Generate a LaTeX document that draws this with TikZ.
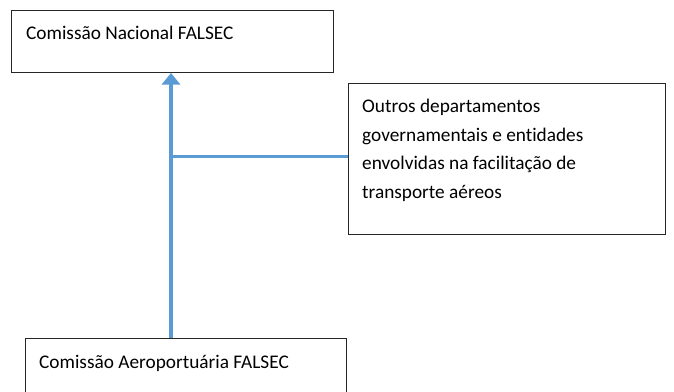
\documentclass[tikz,border=0pt]{standalone}
\usepackage{fontspec}
\setmainfont{Carlito}[Ligatures={NoCommon}]
\usetikzlibrary{arrows.meta}
\definecolor{linkblue}{HTML}{5B9BD5}
\definecolor{boxline}{HTML}{262626}
\tikzset{
  boxshape/.style={draw=boxline, line width=1.3pt, rectangle, inner sep=0pt},
  label/.style={inner sep=0pt, anchor=base west, font=\fontsize{19.3}{28.4}\selectfont, align=left},
  link/.style={draw=linkblue, line width=3.4pt},
}
\begin{document}
\begin{tikzpicture}[x=1pt,y=-1pt]
\useasboundingbox (0,0) rectangle (674,391);
\clip (0,0) rectangle (674,391);
\fill[white] (0,0) rectangle (674,391);
% boxes
\node[boxshape, minimum width=322pt, minimum height=62.2pt, anchor=north west] (top) at (11,9.5) {};
\node[boxshape, minimum width=317pt, minimum height=151pt, anchor=north west] (side) at (348,83) {};
\node[boxshape, minimum width=321pt, minimum height=70pt, anchor=north west] (bot) at (25,338) {};
% texts
\node[label] (toptext) at (26,39.3) {Comissão Nacional FALSEC};
\node[label] (sidetext) at (362,198) {Outros departamentos\\governamentais e entidades\\envolvidas na facilitação de\\transporte aéreos};
\node[label] (bottext) at (39,368) {Comissão Aeroportuária FALSEC};
% connectors
\coordinate (junction) at (171,156.3);
\draw[link, -{Triangle[width=18pt,length=11.5pt]}] (bot.north -| junction) -- (top.south -| junction);
\draw[link] (junction) -- (side.west |- junction);
\end{tikzpicture}
\end{document}
